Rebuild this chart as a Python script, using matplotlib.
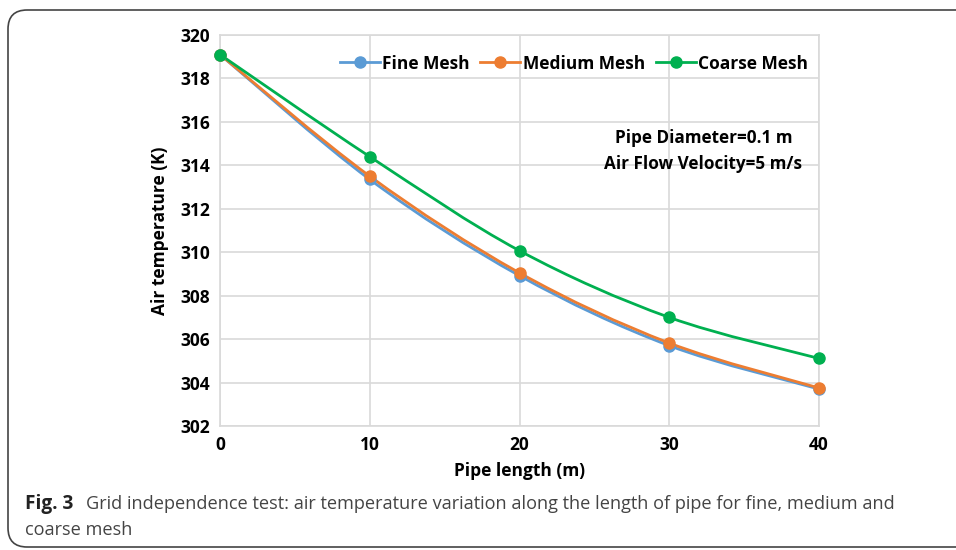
import numpy as np
import matplotlib
matplotlib.use("Agg")
import matplotlib.pyplot as plt
from matplotlib.path import Path
from matplotlib.patches import PathPatch, FancyBboxPatch
from matplotlib.lines import Line2D

plt.rcParams['font.family'] = ['Open Sans', 'DejaVu Sans']

pipe_length = [0, 10, 20, 30, 40]
fine_mesh = [319.1, 313.35, 308.92, 305.7, 303.7]
medium_mesh = [319.1, 313.5, 309.05, 305.82, 303.75]
coarse_mesh = [319.1, 314.4, 310.07, 307.0, 305.11]

series_names = ['Fine Mesh', 'Medium Mesh', 'Coarse Mesh']
series_colors = ['#5B9BD5', '#ED7D31', '#00B050']
x_ticks = [0, 10, 20, 30, 40]
y_ticks = [302, 304, 306, 308, 310, 312, 314, 316, 318, 320]


def smooth_path(x, y):
    # excel style smoothed line: cubic bezier through the points
    p = np.column_stack([x, y]).astype(float)
    verts = [p[0]]
    codes = [Path.MOVETO]
    n = len(p)
    for i in range(n - 1):
        p0 = p[i - 1] if i > 0 else p[i]
        p3 = p[i + 2] if i + 2 < n else p[i + 1]
        c1 = p[i] + (p[i + 1] - p0) / 6.0
        c2 = p[i + 1] - (p3 - p[i]) / 6.0
        verts += [c1, c2, p[i + 1]]
        codes += [Path.CURVE4] * 3
    return Path(verts, codes)


fig = plt.figure(figsize=(9.56, 5.5), dpi=100)

# rounded frame around the figure
frame = FancyBboxPatch((8 / 956, 3 / 550), 1.2, 1 - 13 / 550,
                       boxstyle="round,pad=0,rounding_size=0.02",
                       transform=fig.transFigure, fill=False,
                       edgecolor='#444444', linewidth=1.2, mutation_aspect=956 / 550)
fig.patches.append(frame)

ax = fig.add_axes([220 / 956, 1 - 426 / 550, 599 / 956, 391 / 550])
ax.set_xlim(0, 40)
ax.set_ylim(302, 320)
ax.set_xticks(x_ticks)
ax.set_yticks(y_ticks)
ax.grid(True, color='#d9d9d9', linewidth=1.2)
ax.set_axisbelow(True)
for s in ax.spines.values():
    s.set_color('#d9d9d9')
    s.set_linewidth(1.2)
ax.tick_params(length=0, labelsize=12.5, pad=7)
for lab in ax.get_xticklabels() + ax.get_yticklabels():
    lab.set_fontweight('bold')

handles = []
for vals, name, col in zip([fine_mesh, medium_mesh, coarse_mesh], series_names, series_colors):
    ax.add_patch(PathPatch(smooth_path(pipe_length, vals), fill=False,
                           edgecolor=col, linewidth=2.0, zorder=3))
    ax.plot(pipe_length, vals, 'o', color=col, markersize=8, zorder=4, clip_on=False)
    handles.append(Line2D([], [], color=col, linewidth=2.0, marker='o', markersize=8))

leg = ax.legend(handles, series_names, ncol=3, loc='upper right',
                bbox_to_anchor=(1.008, 0.99), frameon=False,
                prop={'weight': 'bold', 'size': 12.5},
                handlelength=2.3, handletextpad=0.15, columnspacing=0.6)

ax.text(0.807, 0.703, 'Pipe Diameter=0.1 m\nAir Flow Velocity=5 m/s',
        transform=ax.transAxes, ha='center', va='center',
        fontsize=12.3, fontweight='bold', linespacing=1.55)

ax.set_xlabel('Pipe length (m)', fontsize=12.5, fontweight='bold', labelpad=6)
ax.set_ylabel('Air temperature (K)', fontsize=12.5, fontweight='bold', labelpad=8)

fig.text(25 / 956, 1 - 504 / 550, 'Fig. 3', fontsize=13.7, fontweight='bold',
         color='#222222', va='center')
fig.text(86 / 956, 1 - 504 / 550,
         'Grid independence test: air temperature variation along the length of pipe for fine, medium and',
         fontsize=13.1, color='#444444', va='center')
fig.text(25 / 956, 1 - 530 / 550, 'coarse mesh', fontsize=13.1, color='#444444', va='center')

fig.savefig('out.png', dpi=100)
